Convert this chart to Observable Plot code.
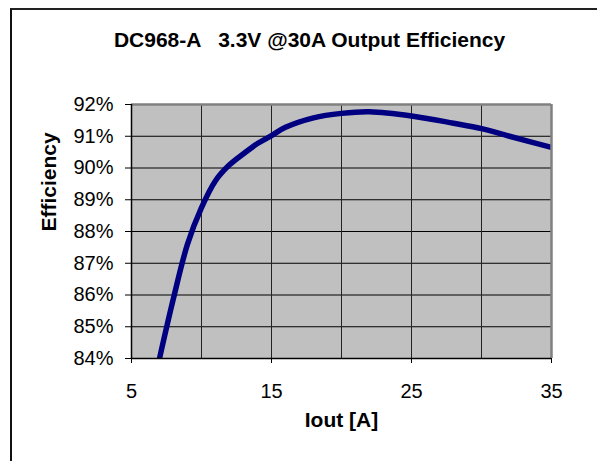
<!DOCTYPE html>
<html>
<head>
<meta charset="utf-8">
<script src="https://cdn.jsdelivr.net/npm/d3@7"></script>
<script src="https://cdn.jsdelivr.net/npm/@observablehq/plot@0.6"></script>
<style>
  html, body { margin: 0; padding: 0; background: #fff; }
  #wrap { position: relative; width: 597px; height: 461px; overflow: hidden; font-family: "Liberation Sans", Arial, sans-serif; color: #000; }
  #border { position: absolute; left: 10px; top: 8px; width: 700px; height: 600px; border-left: 2px solid #111; border-top: 2px solid #222; box-sizing: border-box; pointer-events: none; }
  #title { height: 70px; box-sizing: border-box; padding-top: 29px; padding-left: 22px; text-align: center; font-weight: bold; font-size: 21px; line-height: 21px; white-space: pre; }
  svg { display: block; }
</style>
</head>
<body>
<div id="wrap">
  <div id="border"></div>
  <div id="title">DC968-A   3.3V @30A Output Efficiency</div>
  <div id="chart"></div>
</div>
<script>
// Output current (A) and efficiency (%)
const iout = [7, 8, 9, 10, 11, 12, 13, 14, 15, 16, 18, 20, 22, 25, 28, 30, 32, 35];
const efficiency = [84.0, 85.9, 87.6, 88.75, 89.6, 90.1, 90.45, 90.77, 91.02, 91.28, 91.58, 91.72, 91.77, 91.64, 91.41, 91.24, 91.0, 90.65];

const xDomain = [5, 35];
const yDomain = [84, 92];
const xTickValues = [5, 15, 25, 35];
const yTickValues = [84, 85, 86, 87, 88, 89, 90, 91, 92];
const xGridValues = [10, 15, 20, 25, 30];
const yGridValues = [85, 86, 87, 88, 89, 90, 91];

const xLabel = "Iout [A]";
const yLabel = "Efficiency";

const data = iout.map((x, i) => ({x, y: efficiency[i]}));

const chart = Plot.plot({
  width: 597,
  height: 391,
  marginLeft: 131,
  marginRight: 46,
  marginTop: 34,
  marginBottom: 103,
  style: {fontFamily: "'Liberation Sans', Arial, sans-serif", color: "#000", background: "transparent", overflow: "visible"},
  x: {domain: xDomain},
  y: {domain: yDomain},
  marks: [
    Plot.frame({fill: "#c0c0c0", stroke: null}),
    Plot.ruleY(yGridValues, {stroke: "#000", strokeWidth: 1}),
    Plot.ruleX(xGridValues, {stroke: "#222", strokeWidth: 1}),
    Plot.line(data, {x: "x", y: "y", curve: "catmull-rom", stroke: "#000080", strokeWidth: 5.5, clip: true}),
    Plot.ruleY([yDomain[1]], {stroke: "#808080", strokeWidth: 2.5}),
    Plot.ruleX([xDomain[1]], {stroke: "#808080", strokeWidth: 2.5}),
    Plot.ruleX([xDomain[0]], {stroke: "#000", strokeWidth: 1.5}),
    Plot.ruleY([yDomain[0]], {stroke: "#000", strokeWidth: 1.5}),
    Plot.axisY({ticks: yTickValues, tickFormat: d => d + "%", tickSize: 6, tickPadding: 12, fontSize: 20, label: null}),
    Plot.axisX({ticks: xTickValues, tickFormat: d => String(d), tickSize: 5, tickPadding: 20, fontSize: 20, label: null}),
    Plot.text([yLabel], {frameAnchor: "left", dx: -82, rotate: -90, fontSize: 21, fontWeight: "bold", fill: "#000"}),
    Plot.text([xLabel], {frameAnchor: "bottom", dy: 68, fontSize: 21, fontWeight: "bold", fill: "#000"})
  ]
});
document.getElementById("chart").appendChild(chart);
</script>
</body>
</html>
